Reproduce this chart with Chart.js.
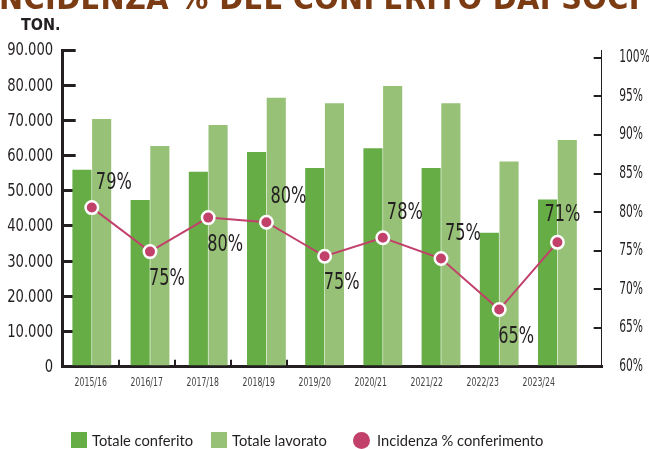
<!DOCTYPE html>
<html>
<head>
<meta charset="utf-8">
<script src="https://cdn.jsdelivr.net/npm/chart.js@4/dist/chart.umd.min.js"></script>
<style>
  body { margin: 0; background: #fff; }
  #wrap { position: relative; width: 649px; height: 449px; overflow: hidden; }
  #chart { position: absolute; left: 0; top: 0; }
  .title {
    position: absolute; left: -12px; top: -17px; white-space: nowrap;
    font: bold 32px 'DejaVu Sans Condensed', 'DejaVu Sans', sans-serif;
    letter-spacing: 0.4px; line-height: 30px; color: #7b3c14;
  }
  .unit {
    position: absolute; left: 21px; top: 15px;
    font: bold 16px 'DejaVu Sans Condensed', sans-serif;
    color: #231f20;
  }
  .legend {
    position: absolute; left: 71px; top: 431px; display: flex; align-items: center;
    font: 14.7px Lato, sans-serif; color: #231f20;
  }
  .legend span { display: inline-flex; align-items: center; margin-right: 18px; }
  .legend i { display: inline-block; width: 16px; height: 16px; margin-right: 5px; }
  .legend i.dot { border-radius: 50%; width: 17px; height: 17px; margin-left: 8px; margin-right: 7px; }
</style>
</head>
<body>
<div id="wrap">
  <canvas id="chart" width="649" height="449"></canvas>
  <div class="title">INCIDENZA % DEL CONFERITO DAI SOCI</div>
  <div class="unit">TON.</div>
  <div class="legend">
    <span><i style="background:#66ad45"></i>Totale conferito</span>
    <span><i style="background:#97c176"></i>Totale lavorato</span>
    <span><i class="dot" style="background:#c2416b"></i>Incidenza % conferimento</span>
  </div>
</div>
<script>
// campaigns
const seasons = ['2015/16', '2016/17', '2017/18', '2018/19', '2019/20', '2020/21', '2021/22', '2022/23', '2023/24'];

// tonnes
const conferito = [56000, 47400, 55400, 61000, 56500, 62100, 56500, 38100, 47500];
const lavorato = [70400, 62700, 68700, 76400, 74900, 79800, 74900, 58300, 64400];

// where the dots sit on the right axis, and what is printed next to them
const incidenza = [80.6, 74.9, 79.3, 78.7, 74.3, 76.7, 74.0, 67.4, 76.1];
const incidenzaLabels = ['79%', '75%', '80%', '80%', '75%', '78%', '75%', '65%', '71%'];
const labelSide = ['ne', 'se', 'se', 'ne', 'se', 'ne', 'ne', 'se', 'n'];

const leftTicks = [0, 10000, 20000, 30000, 40000, 50000, 60000, 70000, 80000, 90000];
const rightTicks = [60, 65, 70, 75, 80, 85, 90, 95, 100];

const DARK = '#231f20';
const NARROW = "'DejaVu Sans Condensed', sans-serif";

const fmtThousands = v => String(v).replace(/\B(?=(\d{3})+(?!\d))/g, '.');
const xy = arr => arr.map((v, i) => ({ x: i, y: v }));

// the original uses a tall condensed face; squeeze DejaVu Condensed to get close
function squeezedText(ctx, text, x, y, align, size, sx, color) {
    ctx.save();
    ctx.translate(x, y);
    ctx.scale(sx, 1);
    ctx.font = size + 'px ' + NARROW;
    ctx.fillStyle = color;
    ctx.textAlign = align;
    ctx.textBaseline = 'middle';
    ctx.fillText(text, 0, 0);
    ctx.restore();
}

const labelsPlugin = {
    id: 'labelsPlugin',
    afterDatasetsDraw(chart) {
        const ctx = chart.ctx;
        const meta = chart.getDatasetMeta(2);
        const off = { ne: [22, -25], se: [17, 27], n: [5, -27] };
        meta.data.forEach((pt, i) => {
            const [dx, dy] = off[labelSide[i]];
            squeezedText(ctx, incidenzaLabels[i], pt.x + dx, pt.y + dy, 'center', 23, 0.78, DARK);
        });
    },
    afterDraw(chart) {
        const ctx = chart.ctx;
        const { x, y, yR } = chart.scales;
        const area = chart.chartArea;
        leftTicks.forEach(v =>
            squeezedText(ctx, fmtThousands(v), area.left - 9.5, y.getPixelForValue(v) + 1, 'right', 17, 0.86, DARK));
        rightTicks.forEach(v =>
            squeezedText(ctx, v + '%', area.right + 17.5, yR.getPixelForValue(v), 'left', 17, 0.7, DARK));
        seasons.forEach((s, i) =>
            squeezedText(ctx, s, x.getPixelForValue(i), area.bottom + 16.5, 'center', 12, 0.72, '#444'));
    }
};

new Chart(document.getElementById('chart'), {
    data: {
        datasets: [
            {
                type: 'bar', label: 'Totale conferito', data: xy(conferito),
                backgroundColor: '#66ad45', xAxisID: 'xb', yAxisID: 'y', order: 1,
                categoryPercentage: 0.677, barPercentage: 0.97,
            },
            {
                type: 'bar', label: 'Totale lavorato', data: xy(lavorato),
                backgroundColor: '#97c176', xAxisID: 'xb', yAxisID: 'y', order: 1,
                categoryPercentage: 0.677, barPercentage: 0.97,
            },
            {
                type: 'line', label: 'Incidenza % conferimento', data: xy(incidenza),
                xAxisID: 'xb', yAxisID: 'yR', order: 0,
                borderColor: '#c2416b', borderWidth: 2,
                pointRadius: 6.25, pointBorderWidth: 2.5,
                pointBackgroundColor: '#c2416b', pointBorderColor: '#ffffff',
            },
        ]
    },
    options: {
        responsive: false,
        animation: false,
        layout: { padding: { top: 50, left: 0, right: 0, bottom: 0 } },
        plugins: { legend: { display: false }, tooltip: { enabled: false } },
        scales: {
            // bars and dots
            xb: {
                type: 'linear', display: false, offset: false, min: -0.5, max: 8.761,
            },
            // season labels and their tick marks, spaced a little tighter than the bars
            x: {
                type: 'linear', position: 'bottom', offset: false, min: -0.5, max: 9.125,
                afterBuildTicks(scale) { scale.ticks = seasons.map((_, i) => ({ value: i })); },
                afterFit(scale) { scale.height = 82.3; },
                border: { display: true, width: 3, color: DARK },
                grid: { offset: true, drawOnChartArea: false, drawTicks: true, tickLength: -7, lineWidth: 2, color: DARK },
                ticks: { display: false },
            },
            y: {
                position: 'left', min: 0, max: 90000,
                afterBuildTicks(scale) { scale.ticks = leftTicks.map(v => ({ value: v })); },
                afterFit(scale) { scale.width = 62.7; },
                border: { display: true, width: 3, color: DARK },
                grid: { drawOnChartArea: false, drawTicks: true, tickLength: -13, lineWidth: 3, color: DARK },
                ticks: { display: false },
            },
            yR: {
                position: 'right', min: 60, max: 101,
                afterBuildTicks(scale) { scale.ticks = rightTicks.map(v => ({ value: v })); },
                afterFit(scale) { scale.width = 47.3; },
                border: { display: true, width: 1, color: DARK },
                grid: { drawOnChartArea: false, drawTicks: true, tickLength: -8, lineWidth: 2, color: DARK },
                ticks: { display: false },
            }
        }
    },
    plugins: [labelsPlugin]
});
</script>
</body>
</html>
